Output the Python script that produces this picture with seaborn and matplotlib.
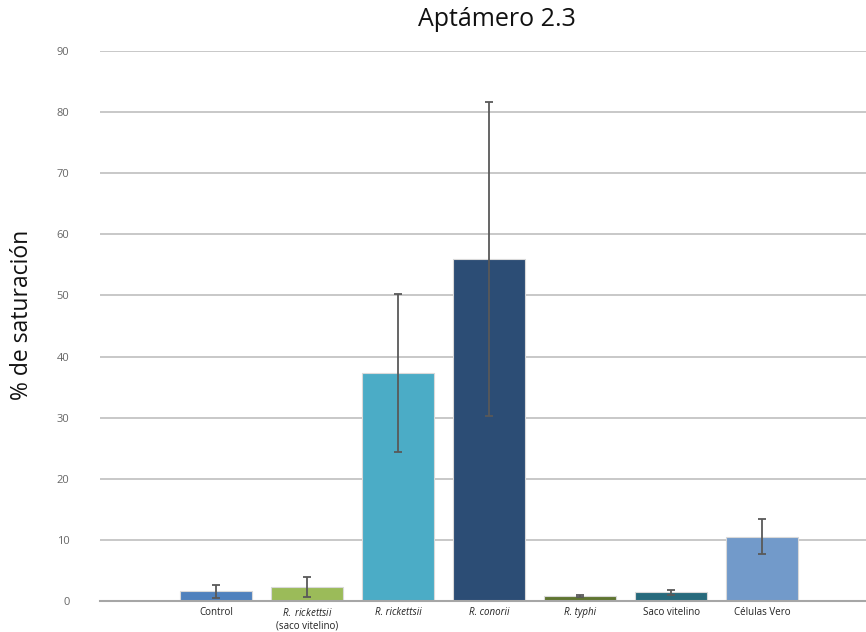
import matplotlib
matplotlib.use("Agg")
import matplotlib.pyplot as plt
import seaborn as sns
import pandas as pd
import numpy as np

categories = ["Control", "R. rickettsii (saco vitelino)", "R. rickettsii", "R. conorii",
              "R. typhi", "Saco vitelino", "Células Vero"]
tick_labels = ["Control", "$\\it{R.\\ rickettsii}$\n(saco vitelino)", "R. rickettsii",
               "R. conorii", "R. typhi", "Saco vitelino", "Células Vero"]
italic_labels = [False, False, True, True, True, False, False]
values = [1.6, 2.3, 37.3, 55.9, 0.85, 1.4, 10.5]
errors = [1.1, 1.6, 12.9, 25.7, 0.15, 0.45, 2.85]
colors = ["#4F81BD", "#9BBB59", "#4BACC6", "#2C4D75", "#5F7530", "#276A7C", "#729ACA"]

sns.set_theme(style="white")
plt.rcParams['font.family'] = ['Open Sans', 'DejaVu Sans']
plt.rcParams['mathtext.fontset'] = 'custom'
plt.rcParams['mathtext.it'] = 'Open Sans:italic'
plt.rcParams['mathtext.rm'] = 'Open Sans'

df = pd.DataFrame({"cat": categories, "val": values})

fig = plt.figure(figsize=(8.66, 6.32), dpi=100)
ax = fig.add_axes([100/866, 1 - 601/632, 766/866, 550/632])

sns.barplot(data=df, x="cat", y="val", hue="cat", palette=colors, dodge=False,
            legend=False, width=0.79, ax=ax, errorbar=None, linewidth=0.8,
            edgecolor="#d9d9d9", saturation=1)
ax.errorbar(np.arange(len(categories)), values, yerr=errors, fmt="none",
            ecolor="#595959", elinewidth=1.3, capsize=3, capthick=1.3, zorder=5)

ax.set_ylim(0, 90)
ax.set_xlim(-1.275, 7.14)
ax.set_yticks(np.arange(0, 91, 10))
ax.yaxis.grid(True, color="#bfbfbf", linewidth=1.2)
ax.set_axisbelow(True)
for s in ["top", "right", "left"]:
    ax.spines[s].set_visible(False)
ax.spines["bottom"].set_color("#a6a6a6")
ax.spines["bottom"].set_linewidth(1.5)
ax.set_xticks(np.arange(len(categories)))
ax.set_xticklabels(tick_labels, fontsize=7, color="#222222", linespacing=1.3)
for lab, it in zip(ax.get_xticklabels(), italic_labels):
    if it:
        lab.set_style("italic")
ax.tick_params(axis="y", labelsize=8, colors="#666666", length=0, pad=22)
ax.tick_params(axis="x", length=0, pad=4)
ax.set_xlabel("")
ax.set_ylabel("")
fig.text(22/866, 1 - 315/632, "% de saturación", rotation=90, ha="center", va="center",
         fontsize=16.5, color="#111111")
fig.text(497/866, 1 - 20/632, "Aptámero 2.3", ha="center", va="center", fontsize=18,
         color="#111111")

fig.savefig("out.png", dpi=100)
